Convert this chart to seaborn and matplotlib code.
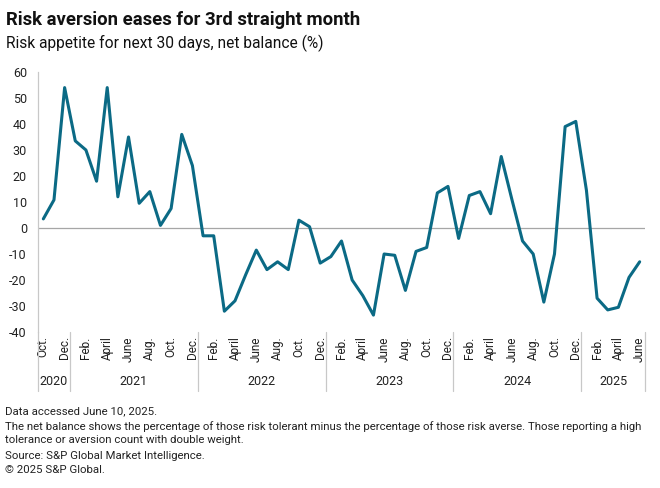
import numpy as np
import pandas as pd
import matplotlib
matplotlib.use("Agg")
import matplotlib.pyplot as plt
import matplotlib.transforms as mtransforms
import seaborn as sns

# Monthly net balance, Oct 2020 .. June 2025
start_month = "2020-10-01"
values = [3.5, 10.8, 54,
          33.5, 30, 18, 54, 12, 35, 9.5, 14, 1, 7.5, 36, 24,
          -3, -3, -32, -28, -18, -8.5, -16, -13, -16, 3, 0.5, -13.5,
          -11, -5, -20, -26, -33.5, -10, -10.5, -24, -9, -7.5, 13.5, 16,
          -4, 12.5, 14, 5.5, 27.5, 11, -5, -10, -28.5, -10, 39, 41,
          14.5, -27, -31.5, -30.5, -19, -13]
month_names = ["Jan.", "Feb.", "March", "April", "May", "June",
               "July", "Aug.", "Sept.", "Oct.", "Nov.", "Dec."]
y_ticks = [60, 50, 40, 30, 20, 10, 0, -10, -20, -30, -40]

dates = pd.date_range(start_month, periods=len(values), freq="MS")
df = pd.DataFrame({"pos": np.arange(len(values)), "date": dates, "value": values})

line_color = "#0B6A85"
grey = "#A6A6A6"
text_color = "#222222"

sns.set_theme(style="white")
plt.rcParams["font.family"] = ["Roboto", "DejaVu Sans"]

fig = plt.figure(figsize=(6.6, 4.88), dpi=100)
ax = fig.add_axes([38 / 660, 1 - 332 / 488, (645 - 38) / 660, 260 / 488])

sns.lineplot(data=df, x="pos", y="value", ax=ax, color=line_color, linewidth=2.2)

ax.set_xlim(-0.5, len(values) - 0.5)
ax.set_ylim(-40, 60)
ax.axhline(0, color=grey, linewidth=0.9, zorder=0)

for s in ["top", "right", "bottom"]:
    ax.spines[s].set_visible(False)
ax.spines["left"].set_color("#C8C8C8")
ax.spines["left"].set_linewidth(0.9)

ax.set_yticks(y_ticks)
ax.set_yticklabels([str(v) for v in y_ticks], fontsize=9, color=text_color)
ax.tick_params(axis="y", length=0, pad=8)

# every other month labelled
tick_pos = df["pos"][::2]
tick_lab = [month_names[d.month - 1] for d in df["date"][::2]]
ax.set_xticks(tick_pos)
ax.set_xticklabels(tick_lab, rotation=90, fontsize=8.5, color=text_color)
ax.tick_params(axis="x", length=0, pad=3)
ax.set_xlabel("")
ax.set_ylabel("")

# year groups
trans = mtransforms.blended_transform_factory(ax.transData, ax.transAxes)
years = df["date"].dt.year
bounds = [-0.5]
for yr in sorted(years.unique()):
    idx = df["pos"][years == yr]
    ax.text((idx.min() + idx.max()) / 2, -0.192, str(yr), transform=trans,
            ha="center", va="center", fontsize=9, color=text_color)
    bounds.append(idx.max() + 0.5)
for b in bounds:
    ax.plot([b, b], [0, -0.225], transform=trans, color="#C8C8C8",
            linewidth=0.9, clip_on=False)

fig.text(6 / 660, 1 - 20 / 488, "Risk aversion eases for 3rd straight month",
         fontsize=13.3, fontweight="bold", color="#111111", va="center")
fig.text(6 / 660, 1 - 43 / 488, "Risk appetite for next 30 days, net balance (%)",
         fontsize=11.2, color="#111111", va="center")

notes = [
    (411, "Data accessed June 10, 2025."),
    (427, "The net balance shows the percentage of those risk tolerant minus the percentage of those risk averse. Those reporting a high"),
    (440, "tolerance or aversion count with double weight."),
    (456, "Source: S&P Global Market Intelligence."),
    (470, "\u00a9 2025 S&P Global."),
]
for y, t in notes:
    fig.text(5 / 660, 1 - y / 488, t, fontsize=8.2, color=text_color, va="center")

fig.savefig("out.png", dpi=100)
